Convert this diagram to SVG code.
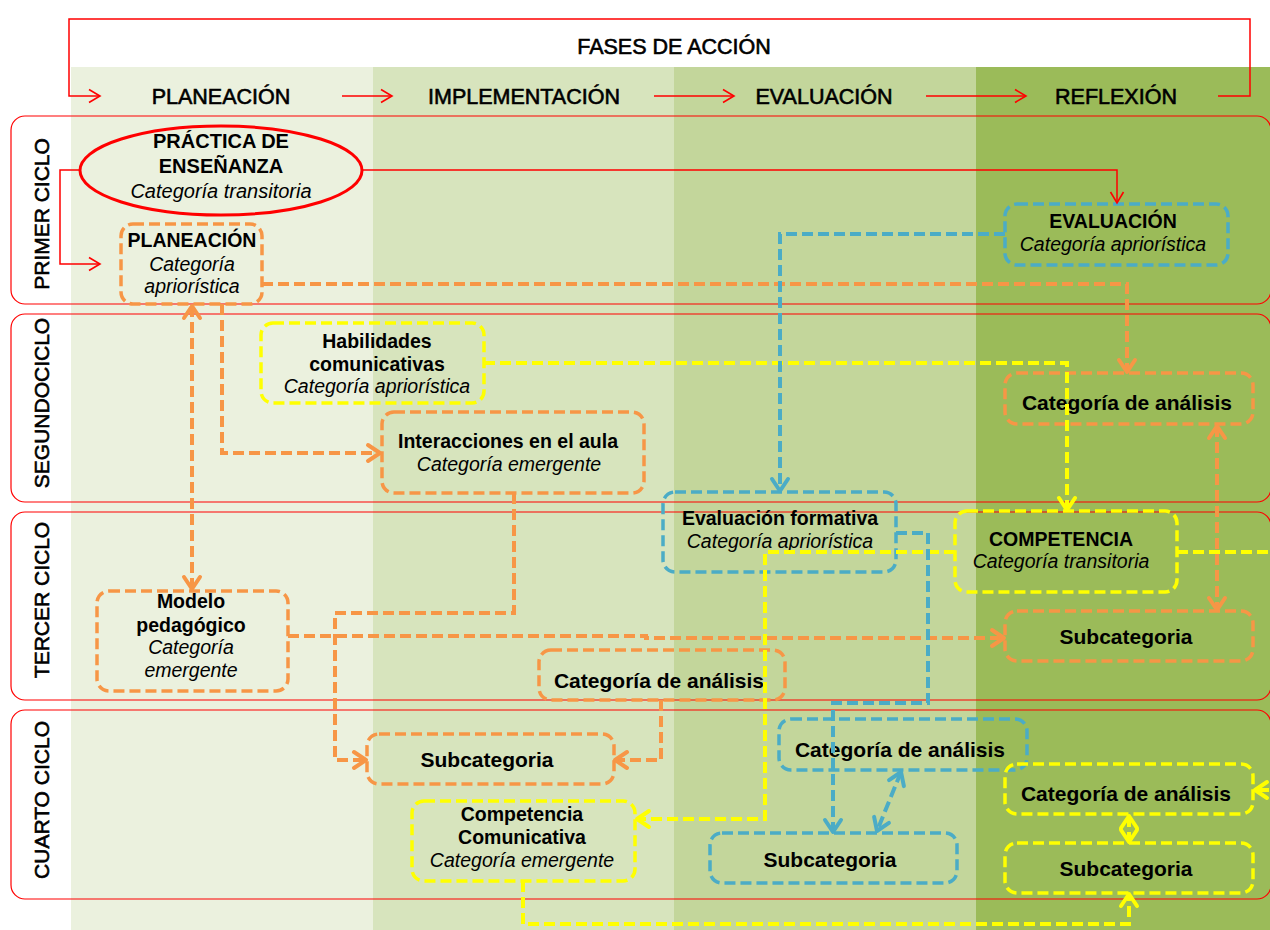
<svg xmlns="http://www.w3.org/2000/svg" width="1270" height="930" viewBox="0 0 1270 930">
<defs>
<style>
text { font-family: "Liberation Sans", Arial, sans-serif; fill:#000; }
.hdr { font-size:21.5px; text-anchor:middle; stroke:#000; stroke-width:0.6; }
.lbl { font-size:21px; text-anchor:middle; stroke:#000; stroke-width:0.6; }
.b { font-weight:bold; font-size:19.5px; text-anchor:middle; }
.b21 { font-weight:bold; font-size:21px; text-anchor:middle; }
.i { font-style:italic; font-size:19.5px; text-anchor:middle; }
.lane { fill:none; stroke:#FF0000; stroke-width:1.2; }
.box { fill:none; stroke-width:3.5; stroke-dasharray:11 5; }
.or { stroke:#F79646; }
.ye { stroke:#FFFF00; }
.bl { stroke:#4BACC6; }
.d { fill:none; stroke-width:4; stroke-dasharray:11 5; }
.red { fill:none; stroke:#FF0000; stroke-width:1.5; }
.mk { fill:none; stroke-width:4; stroke-linejoin:round; stroke-linecap:round; stroke-dasharray:none; }
</style>
<marker id="aO" markerUnits="userSpaceOnUse" viewBox="-16 -11 18 22" refX="0" refY="0" markerWidth="18" markerHeight="22" orient="auto-start-reverse" overflow="visible"><path class="mk" d="M-12,-8 L0,0 L-12,8" stroke="#F79646"/></marker>
<marker id="aY" markerUnits="userSpaceOnUse" viewBox="-16 -11 18 22" refX="0" refY="0" markerWidth="18" markerHeight="22" orient="auto-start-reverse" overflow="visible"><path class="mk" d="M-12,-8 L0,0 L-12,8" stroke="#FFFF00"/></marker>
<marker id="aB" markerUnits="userSpaceOnUse" viewBox="-16 -11 18 22" refX="0" refY="0" markerWidth="18" markerHeight="22" orient="auto-start-reverse" overflow="visible"><path class="mk" d="M-12,-8 L0,0 L-12,8" stroke="#4BACC6"/></marker>
<marker id="aR" markerUnits="userSpaceOnUse" viewBox="-13 -8 15 16" refX="0" refY="0" markerWidth="15" markerHeight="16" orient="auto" overflow="visible"><path d="M-11,-6.5 L0,0 L-11,6.5" fill="none" stroke="#FF0000" stroke-width="1.6"/></marker>
</defs>

<rect x="0" y="0" width="1270" height="930" fill="#FFFFFF"/>
<g id="columns">
<rect x="71" y="67" width="302" height="863" fill="#EBF1DE"/>
<rect x="373" y="67" width="301" height="863" fill="#D7E4BD"/>
<rect x="674" y="67" width="302" height="863" fill="#C3D69B"/>
<rect x="976" y="67" width="294" height="863" fill="#9BBB59"/>
</g>

<g id="header">
<text class="hdr" x="674" y="54">FASES DE ACCIÓN</text>
<text class="hdr" x="221" y="104">PLANEACIÓN</text>
<text class="hdr" x="524" y="104">IMPLEMENTACIÓN</text>
<text class="hdr" x="824" y="104">EVALUACIÓN</text>
<text class="hdr" x="1116" y="104">REFLEXIÓN</text>
</g>

<g id="swimlanes">
<rect class="lane" x="11" y="116" width="1260" height="188" rx="14"/>
<rect class="lane" x="11" y="314" width="1260" height="188" rx="14"/>
<rect class="lane" x="11" y="512" width="1260" height="188" rx="14"/>
<rect class="lane" x="11" y="710" width="1260" height="189" rx="14"/>
<text class="lbl" transform="translate(49,214) rotate(-90)">PRIMER CICLO</text>
<text class="lbl" transform="translate(49,403) rotate(-90)">SEGUNDOCICLO</text>
<text class="lbl" transform="translate(49,600) rotate(-90)">TERCER CICLO</text>
<text class="lbl" transform="translate(49,800) rotate(-90)">CUARTO CICLO</text>
</g>

<g id="node-practica">
<ellipse cx="221" cy="170.5" rx="141" ry="44.5" fill="none" stroke="#FF0000" stroke-width="3"/>
<text class="b" style="font-size:20px" x="221" y="148">PRÁCTICA DE</text>
<text class="b" style="font-size:20px" x="221" y="173">ENSEÑANZA</text>
<text class="i" style="font-size:20px" x="221" y="198">Categoría transitoria</text>
</g>
<g id="node-planeacion">
<rect class="box or" x="121" y="224" width="141" height="80" rx="12"/>
<text class="b" x="192" y="247">PLANEACIÓN</text>
<text class="i" x="192" y="271">Categoría</text>
<text class="i" x="192" y="293">apriorística</text>
</g>
<g id="node-evaluacion">
<rect class="box bl" x="1005" y="204" width="223" height="61" rx="12"/>
<text class="b" x="1113" y="228">EVALUACIÓN</text>
<text class="i" x="1113" y="251">Categoría apriorística</text>
</g>
<g id="node-habilidades">
<rect class="box ye" x="261" y="323" width="223" height="80" rx="12"/>
<text class="b" x="377" y="348">Habilidades</text>
<text class="b" x="377" y="371">comunicativas</text>
<text class="i" x="377" y="393">Categoría apriorística</text>
</g>
<g id="node-interacciones">
<rect class="box or" x="382" y="412" width="262" height="81" rx="12"/>
<text class="b" x="508" y="448">Interacciones en el aula</text>
<text class="i" x="509" y="471">Categoría emergente</text>
</g>
<g id="node-analisis-2">
<rect class="box or" x="1005" y="373" width="248" height="51" rx="12"/>
<text class="b21" x="1127" y="410">Categoría de análisis</text>
</g>
<g id="node-eval-formativa">
<rect class="box bl" x="663" y="492" width="233" height="80" rx="12"/>
<text class="b" x="780" y="525">Evaluación formativa</text>
<text class="i" x="780" y="548">Categoría apriorística</text>
</g>
<g id="node-competencia">
<rect class="box ye" x="955" y="511" width="222" height="81" rx="12"/>
<text class="b" x="1061" y="546">COMPETENCIA</text>
<text class="i" x="1061" y="568">Categoría transitoria</text>
</g>
<g id="node-subcat-3">
<rect class="box or" x="1005" y="611" width="248" height="50" rx="12"/>
<text class="b21" x="1126" y="644">Subcategoria</text>
</g>
<g id="node-modelo">
<rect class="box or" x="97" y="591" width="191" height="100" rx="12"/>
<text class="b" x="191" y="608">Modelo</text>
<text class="b" x="191" y="632">pedagógico</text>
<text class="i" x="191" y="654">Categoría</text>
<text class="i" x="191" y="677">emergente</text>
</g>
<g id="node-analisis-3">
<rect class="box or" x="539" y="650" width="246" height="50" rx="12"/>
<text class="b21" x="659" y="688">Categoría de análisis</text>
</g>
<g id="node-subcat-4o">
<rect class="box or" x="367" y="734" width="247" height="50" rx="12"/>
<text class="b21" x="487" y="767">Subcategoria</text>
</g>
<g id="node-comp-comunicativa">
<rect class="box ye" x="412" y="801" width="223" height="80" rx="12"/>
<text class="b" x="522" y="821">Competencia</text>
<text class="b" x="522" y="844">Comunicativa</text>
<text class="i" x="522" y="867">Categoría emergente</text>
</g>
<g id="node-analisis-4b">
<rect class="box bl" x="779" y="719" width="248" height="51" rx="12"/>
<text class="b21" x="900" y="757">Categoría de análisis</text>
</g>
<g id="node-subcat-4b">
<rect class="box bl" x="710" y="833" width="247" height="50" rx="12"/>
<text class="b21" x="830" y="867">Subcategoria</text>
</g>
<g id="node-analisis-4y">
<rect class="box ye" x="1005" y="764" width="248" height="50" rx="12"/>
<text class="b21" x="1126" y="801">Categoría de análisis</text>
</g>
<g id="node-subcat-4y">
<rect class="box ye" x="1005" y="843" width="248" height="50" rx="12"/>
<text class="b21" x="1126" y="876">Subcategoria</text>
</g>

<g id="connectors">
<path class="red" d="M1218,96 H1250 V19 H69 V96 H100" marker-end="url(#aR)"/>
<path class="red" d="M342,96 H392" marker-end="url(#aR)"/>
<path class="red" d="M654,96 H734" marker-end="url(#aR)"/>
<path class="red" d="M926,96 H1026" marker-end="url(#aR)"/>
<path class="red" d="M362,170 H1117 V203" marker-end="url(#aR)"/>
<path class="red" d="M80,170 H60 V264 H100" marker-end="url(#aR)"/>

<path class="d or" d="M262,284 H1127 V372" marker-end="url(#aO)"/>
<path class="d or" d="M222,304 V453 H380" marker-end="url(#aO)"/>
<path class="d or" d="M192,306 V589" marker-start="url(#aO)" marker-end="url(#aO)"/>
<path class="d or" d="M514,493 V613 H335 V760 H366" marker-end="url(#aO)"/>
<path class="d or" d="M288,636 H646 V638 H1004" marker-end="url(#aO)"/>
<path class="d or" d="M661,700 V760 H615" marker-end="url(#aO)"/>
<path class="d or" d="M1217,426 V610" marker-start="url(#aO)" marker-end="url(#aO)"/>

<path class="d ye" d="M484,363 H1067 V510" marker-end="url(#aY)"/>
<path class="d ye" d="M955,552 H765 V819 H637" marker-end="url(#aY)"/>
<path class="d ye" d="M1177,552 H1280 V790 H1255" marker-end="url(#aY)"/>
<path class="d ye" d="M523,881 V924 H1129 V894" marker-end="url(#aY)"/>
<path class="d ye" d="M1129,816 V842" marker-start="url(#aY)" marker-end="url(#aY)"/>

<path class="d bl" d="M1005,234 H780 V491" marker-end="url(#aB)"/>
<path class="d bl" d="M896,533 H928 V703 H833 V832" marker-end="url(#aB)"/>
<path class="d bl" d="M901,772 L877,831" marker-start="url(#aB)" marker-end="url(#aB)"/>
</g>
</svg>
